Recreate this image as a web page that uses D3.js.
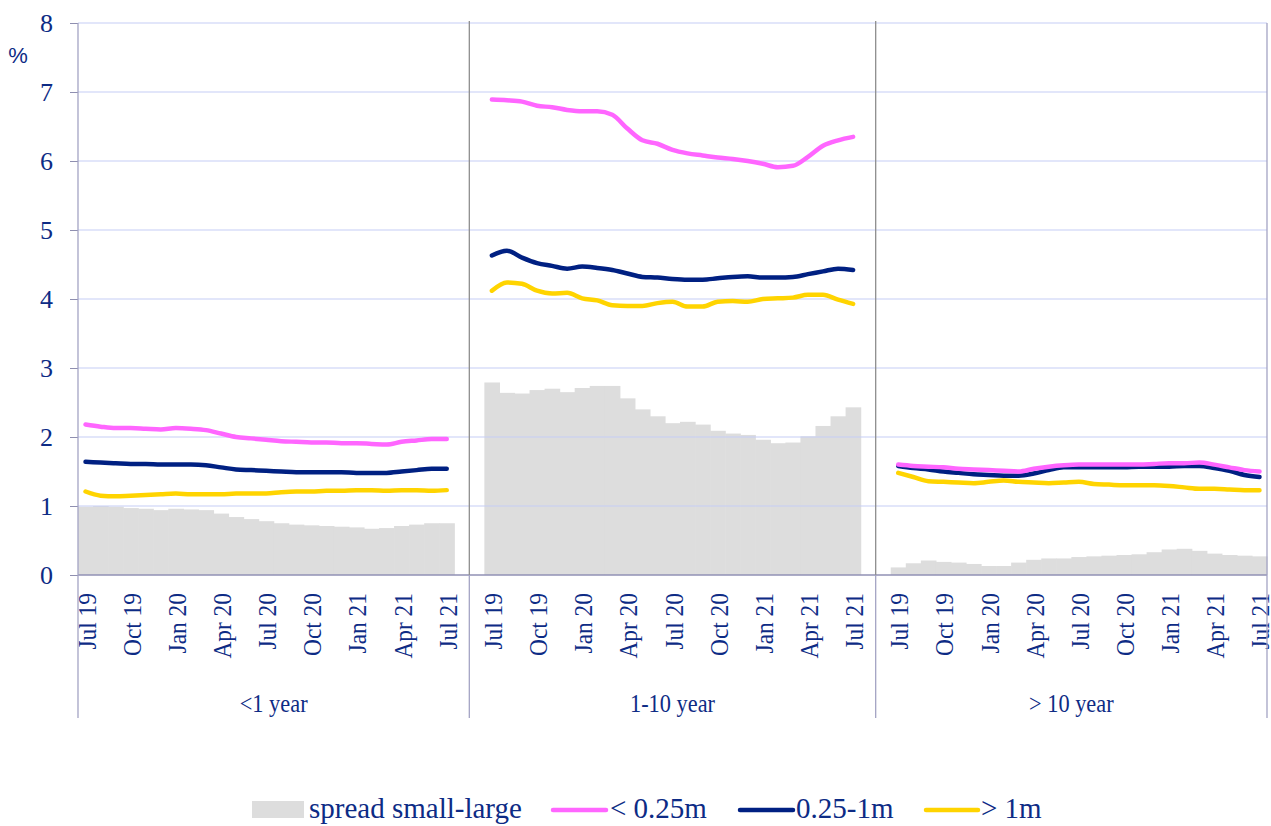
<!DOCTYPE html>
<html lang="en">
<head>
<meta charset="UTF-8">
<title>Interest rates by maturity and loan size</title>
<script src="https://d3js.org/d3.v7.min.js"></script>
<style>
  body { margin: 0; background: #fff; }
  svg { display: block; }
  text { font-family: "Liberation Serif", "Times New Roman", serif; fill: #0d2b85; }
</style>
</head>
<body>
<svg id="chart"></svg>
<script>
// months shown on each panel
const months = ["Jul 19","Aug 19","Sep 19","Oct 19","Nov 19","Dec 19","Jan 20","Feb 20","Mar 20",
  "Apr 20","May 20","Jun 20","Jul 20","Aug 20","Sep 20","Oct 20","Nov 20","Dec 20",
  "Jan 21","Feb 21","Mar 21","Apr 21","May 21","Jun 21","Jul 21"];
const buckets = ["<1 year", "1-10 year", "> 10 year"];
const yTicks = [0, 1, 2, 3, 4, 5, 6, 7, 8];

// spread small-large (grey bars)
const spreadShort = [0.99,1.00,0.99,0.97,0.96,0.94,0.96,0.95,0.94,0.89,0.84,0.81,0.78,0.75,0.73,0.72,0.71,0.70,0.69,0.67,0.68,0.71,0.73,0.75,0.75];
const spreadMid   = [2.79,2.64,2.63,2.68,2.70,2.65,2.71,2.74,2.74,2.56,2.40,2.30,2.20,2.22,2.18,2.09,2.05,2.03,1.96,1.91,1.92,2.01,2.16,2.30,2.43];
const spreadLong  = [0.11,0.17,0.21,0.19,0.18,0.16,0.13,0.13,0.18,0.22,0.24,0.24,0.26,0.27,0.28,0.29,0.30,0.33,0.37,0.38,0.35,0.31,0.29,0.28,0.27];

// < 0.25m
const smallShort = [2.18,2.15,2.13,2.13,2.12,2.11,2.13,2.12,2.10,2.05,2.00,1.98,1.96,1.94,1.93,1.92,1.92,1.91,1.91,1.90,1.89,1.93,1.95,1.97,1.97];
const smallMid   = [6.89,6.88,6.86,6.80,6.78,6.74,6.72,6.72,6.67,6.47,6.30,6.25,6.16,6.11,6.08,6.05,6.03,6.00,5.96,5.91,5.93,6.06,6.22,6.30,6.35];
const smallLong  = [1.60,1.58,1.57,1.56,1.54,1.53,1.52,1.51,1.50,1.54,1.57,1.59,1.60,1.60,1.60,1.60,1.60,1.61,1.62,1.62,1.63,1.60,1.56,1.52,1.50];

// 0.25-1m
const midShort = [1.64,1.63,1.62,1.61,1.61,1.60,1.60,1.60,1.59,1.56,1.53,1.52,1.51,1.50,1.49,1.49,1.49,1.49,1.48,1.48,1.48,1.50,1.52,1.54,1.54];
const midMid   = [4.63,4.70,4.60,4.52,4.48,4.44,4.47,4.45,4.42,4.37,4.32,4.31,4.29,4.28,4.28,4.30,4.32,4.33,4.31,4.31,4.32,4.36,4.40,4.44,4.42];
const midLong  = [1.58,1.55,1.53,1.50,1.48,1.46,1.45,1.44,1.44,1.47,1.52,1.56,1.56,1.56,1.56,1.56,1.57,1.57,1.57,1.58,1.58,1.55,1.51,1.45,1.42];

// > 1m
const largeShort = [1.21,1.15,1.14,1.15,1.16,1.17,1.18,1.17,1.17,1.17,1.18,1.18,1.18,1.20,1.21,1.21,1.22,1.22,1.23,1.23,1.22,1.23,1.23,1.22,1.23];
const largeMid   = [4.12,4.24,4.22,4.12,4.08,4.09,4.01,3.98,3.91,3.90,3.90,3.94,3.96,3.89,3.89,3.96,3.97,3.96,4.00,4.01,4.02,4.06,4.06,3.99,3.93];
const largeLong  = [1.48,1.42,1.36,1.35,1.34,1.33,1.35,1.37,1.35,1.34,1.33,1.34,1.35,1.32,1.31,1.30,1.30,1.30,1.29,1.27,1.25,1.25,1.24,1.23,1.23];

const width = 1271, height = 826;
const plotLeft = 78, plotRight = 1267, plotTop = 23, plotBottom = 575, catBottom = 718;

const svg = d3.select("#chart").attr("width", width).attr("height", height);

// one band per month, with empty slots between the maturity groups
const keys = [];
months.forEach((m, i) => keys.push("0|" + i));
keys.push("gap0");
keys.push("gap1a");
months.forEach((m, i) => keys.push("1|" + i));
keys.push("gap1b");
keys.push("gap2");
months.forEach((m, i) => keys.push("2|" + i));

const x = d3.scaleBand().domain(keys).range([plotLeft, plotRight]);
const y = d3.scaleLinear().domain([0, 8]).range([plotBottom, plotTop]);
const bw = x.bandwidth();

const groups = [
  { spread: spreadShort, small: smallShort, mid: midShort, large: largeShort },
  { spread: spreadMid, small: smallMid, mid: midMid, large: largeMid },
  { spread: spreadLong, small: smallLong, mid: midLong, large: largeLong }
];

// bars
groups.forEach((g, p) => {
  svg.append("g").selectAll("rect")
    .data(g.spread)
    .join("rect")
    .attr("x", (d, i) => x(p + "|" + i))
    .attr("width", bw + 0.6)
    .attr("y", d => y(d))
    .attr("height", d => y(0) - y(d))
    .attr("fill", "#dddddd");
});

// gridlines (drawn over the bars like the original)
svg.append("g").selectAll("line")
  .data(yTicks.filter(t => t > 0))
  .join("line")
  .attr("x1", plotLeft).attr("x2", plotRight)
  .attr("y1", d => y(d)).attr("y2", d => y(d))
  .attr("stroke", "#c6cef6").attr("stroke-width", 1.2);

// y axis
const yAxis = svg.append("g")
  .attr("transform", `translate(${plotLeft},0)`)
  .call(d3.axisLeft(y).tickValues(yTicks).tickSize(8).tickPadding(17));
yAxis.select(".domain").remove();
yAxis.selectAll(".tick line").attr("stroke", "#8f8fb0");
yAxis.selectAll(".tick text")
  .style("font-family", "'Liberation Serif', serif")
  .style("font-size", "26px")
  .attr("fill", "#0d2b85");

svg.append("text")
  .attr("x", 18).attr("y", 63)
  .attr("text-anchor", "middle")
  .style("font-family", "'Liberation Sans', Arial, sans-serif")
  .style("font-size", "22px")
  .text("%");

// x axis month labels
const labelKeys = [];
[0, 1, 2].forEach(p => months.forEach((m, i) => { if (i % 3 === 0) labelKeys.push(p + "|" + i); }));
const xAxis = svg.append("g")
  .attr("transform", `translate(0,${plotBottom})`)
  .call(d3.axisBottom(x).tickValues(labelKeys).tickSize(0)
    .tickFormat(k => months[+k.split("|")[1]]));
xAxis.select(".domain").remove();
xAxis.selectAll(".tick text")
  .style("font-family", "'Liberation Serif', serif")
  .style("font-size", "26px")
  .attr("fill", "#0d2b85")
  .attr("text-anchor", "end")
  .attr("transform", "rotate(-90) scale(0.9,1)")
  .attr("x", -20)
  .attr("y", 10)
  .attr("dy", 0);

// axis frame lines
svg.append("line")
  .attr("x1", plotLeft).attr("x2", plotRight).attr("y1", plotBottom).attr("y2", plotBottom)
  .attr("stroke", "#9090b4").attr("stroke-width", 1.3);
[plotLeft, plotRight].forEach(px => {
  svg.append("line")
    .attr("x1", px).attr("x2", px).attr("y1", plotTop).attr("y2", catBottom)
    .attr("stroke", "#a4a4c4").attr("stroke-width", 1.3);
});

// separators between maturity groups
const seps = [x("gap0") + bw, x("gap1b") + bw];
seps.forEach(px => {
  svg.append("line")
    .attr("x1", px).attr("x2", px).attr("y1", plotTop - 2).attr("y2", plotBottom)
    .attr("stroke", "#8e8e8e").attr("stroke-width", 1.3);
  svg.append("line")
    .attr("x1", px).attr("x2", px).attr("y1", plotBottom).attr("y2", catBottom)
    .attr("stroke", "#a4a4c4").attr("stroke-width", 1.3);
});

// group labels
const edges = [plotLeft, seps[0], seps[1], plotRight];
buckets.forEach((b, p) => {
  const cx = (edges[p] + edges[p + 1]) / 2;
  svg.append("text")
    .attr("transform", `translate(${cx},712) scale(0.86,1)`)
    .attr("text-anchor", "middle")
    .style("font-size", "26px")
    .text(b);
});

// lines
const series = [
  { key: "large", color: "#ffd400" },
  { key: "mid", color: "#002082" },
  { key: "small", color: "#ff66ff" }
];
const line = d3.line()
  .x(d => d.x)
  .y(d => y(d.v))
  .curve(d3.curveMonotoneX);

series.forEach(s => {
  groups.forEach((g, p) => {
    const pts = g[s.key].map((v, i) => ({ x: x(p + "|" + i) + bw / 2, v }));
    svg.append("path")
      .datum(pts)
      .attr("d", line)
      .attr("fill", "none")
      .attr("stroke", s.color)
      .attr("stroke-width", 4.5)
      .attr("stroke-linecap", "round")
      .attr("stroke-linejoin", "round");
  });
});

// legend
const legend = svg.append("g");
legend.append("rect")
  .attr("x", 252).attr("y", 801).attr("width", 52).attr("height", 17)
  .attr("fill", "#dddddd");
legend.append("text").attr("x", 309).attr("y", 818).style("font-size", "29px").text("spread small-large");

const legendLines = [
  { x1: 553, x2: 606, color: "#ff66ff", tx: 610, label: "< 0.25m" },
  { x1: 740, x2: 793, color: "#002082", tx: 796, label: "0.25-1m" },
  { x1: 926, x2: 978, color: "#ffd400", tx: 981, label: "> 1m" }
];
legendLines.forEach(l => {
  legend.append("line")
    .attr("x1", l.x1).attr("x2", l.x2).attr("y1", 810).attr("y2", 810)
    .attr("stroke", l.color).attr("stroke-width", 4.5).attr("stroke-linecap", "round");
  legend.append("text").attr("x", l.tx).attr("y", 818).style("font-size", "29px").text(l.label);
});
</script>
</body>
</html>
